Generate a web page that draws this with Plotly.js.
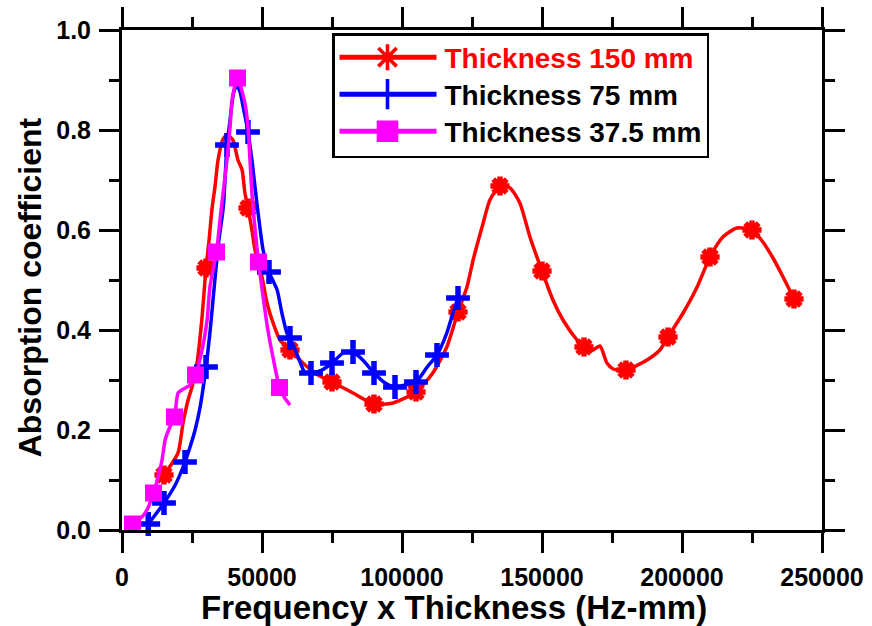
<!DOCTYPE html>
<html>
<head>
<meta charset="utf-8">
<script src="https://cdn.plot.ly/plotly-3.0.1.min.js"></script>
<style>html,body{margin:0;padding:0;background:#fff;}#chart{width:872px;height:626px;}</style>
</head>
<body>
<div id="chart"></div>
<script>
// ---- data (Frequency x Thickness in Hz-mm, absorption coefficient) ----
var seriesNames = ['Thickness 150 mm', 'Thickness 75 mm', 'Thickness 37.5 mm'];
var xTitle = 'Frequency x Thickness (Hz-mm)';
var yTitle = 'Absorption coefficient';

var red150X = [15000, 20000, 21800, 23600, 25000, 26800, 28600, 30000, 31000, 32100, 33200, 34300, 36100, 37500, 39600, 41400, 42900, 43900, 45000, 46400, 47500, 50000, 51800, 53600, 56400, 60000, 64600, 70000, 75000, 82500, 90000, 96800, 105000, 111000, 116000, 120000, 123200, 125400, 128600, 131400, 135000, 138600, 142100, 145700, 150000, 153900, 157500, 162500, 165000, 167500, 170700, 173200, 175400, 180000, 187500, 192100, 195000, 200400, 205400, 210000, 214600, 219600, 225000, 228900, 232500, 236100, 240000];
var red150Y = [0.11, 0.154, 0.214, 0.26, 0.286, 0.334, 0.426, 0.524, 0.574, 0.64, 0.686, 0.74, 0.782, 0.79, 0.78, 0.74, 0.72, 0.674, 0.644, 0.60, 0.56, 0.506, 0.454, 0.42, 0.38, 0.36, 0.334, 0.31, 0.296, 0.274, 0.252, 0.254, 0.276, 0.314, 0.366, 0.436, 0.486, 0.54, 0.606, 0.66, 0.688, 0.684, 0.654, 0.586, 0.518, 0.46, 0.42, 0.38, 0.366, 0.358, 0.368, 0.334, 0.322, 0.32, 0.34, 0.36, 0.386, 0.434, 0.486, 0.546, 0.586, 0.604, 0.60, 0.576, 0.544, 0.506, 0.462];
var red150Markers = [15000, 30000, 45000, 60000, 75000, 90000, 105000, 120000, 135000, 150000, 165000, 180000, 195000, 210000, 225000, 240000];

var blue75X = [9375, 12500, 15000, 19000, 22500, 24300, 26100, 27900, 30000, 31500, 33000, 34500, 36200, 37500, 38600, 39800, 41000, 42200, 43500, 45000, 46400, 47500, 48600, 50400, 52500, 55400, 57100, 58900, 60000, 62900, 65400, 67500, 71400, 75000, 79000, 82500, 86000, 90000, 94000, 97500, 101000, 105000, 109000, 112500, 116000, 118200, 120000];
var blue75Y = [0.012, 0.035, 0.054, 0.09, 0.136, 0.166, 0.2, 0.246, 0.326, 0.40, 0.49, 0.575, 0.647, 0.77, 0.82, 0.873, 0.89, 0.875, 0.84, 0.796, 0.74, 0.686, 0.634, 0.56, 0.516, 0.48, 0.434, 0.394, 0.384, 0.346, 0.314, 0.314, 0.32, 0.334, 0.354, 0.356, 0.34, 0.314, 0.294, 0.286, 0.29, 0.296, 0.326, 0.35, 0.394, 0.434, 0.464];
var blue75Markers = [9375, 15000, 22500, 30000, 37500, 45000, 52500, 60000, 67500, 75000, 82500, 90000, 97500, 105000, 112500, 120000];

var mag37X = [3750, 7100, 8900, 11250, 12900, 14300, 15400, 17100, 18750, 20000, 21400, 24300, 26250, 28600, 30400, 31400, 33750, 35000, 36100, 37500, 38600, 39300, 41250, 43900, 45000, 45700, 46400, 47200, 48750, 50400, 52100, 53900, 56250, 58000, 60000];
var mag37Y = [0.012, 0.026, 0.04, 0.074, 0.106, 0.14, 0.18, 0.206, 0.226, 0.274, 0.28, 0.29, 0.31, 0.36, 0.42, 0.486, 0.556, 0.62, 0.674, 0.74, 0.806, 0.86, 0.904, 0.854, 0.806, 0.74, 0.674, 0.62, 0.536, 0.466, 0.40, 0.346, 0.285, 0.265, 0.25];
var mag37Markers = [3750, 11250, 18750, 26250, 33750, 41250, 48750, 56250];

var xTickVals = [0, 50000, 100000, 150000, 200000, 250000];
var yTickVals = [0.0, 0.2, 0.4, 0.6, 0.8, 1.0];

// ---- build traces ----
function sizesFor(xs, marks, s) {
  return xs.map(function (v) { return marks.indexOf(v) >= 0 ? s : 0; });
}
var FONT = 'Liberation Sans, Arial, Helvetica, sans-serif';

var traces = [
  {
    x: red150X, y: red150Y, mode: 'lines+markers',
    name: '<span style="color:#ff0000">' + seriesNames[0] + '</span>',
    line: {color: '#ff0000', width: 3.5, shape: 'spline', smoothing: 0.6},
    marker: {symbol: 'asterisk', color: '#ff0000', opacity: 1, size: sizesFor(red150X, red150Markers, 16),
             line: {color: '#ff0000', width: 5.5}},
    cliponaxis: false
  },
  {
    x: blue75X, y: blue75Y, mode: 'lines+markers', name: seriesNames[1],
    line: {color: '#0000ff', width: 3.5, shape: 'spline', smoothing: 0.6},
    marker: {symbol: 'cross-thin', color: '#0000ff', opacity: 1, size: sizesFor(blue75X, blue75Markers, 17),
             line: {color: '#0000ff', width: 5.5}},
    cliponaxis: false
  },
  {
    x: mag37X, y: mag37Y, mode: 'lines+markers', name: seriesNames[2],
    line: {color: '#ff00ff', width: 3.5, shape: 'spline', smoothing: 0.6},
    marker: {symbol: 'square', color: '#ff00ff', opacity: 1, size: sizesFor(mag37X, mag37Markers, 17),
             line: {width: 0}},
    cliponaxis: false
  }
];

var axisCommon = {
  showline: true, linecolor: '#000', linewidth: 3, mirror: 'ticks',
  ticks: 'outside', ticklen: 20, tickwidth: 3, tickcolor: '#000',
  showgrid: false, zeroline: false, ticklabelstandoff: 3,
  tickfont: {family: FONT, size: 25, color: '#000', weight: 'bold'}
};

var layout = {
  width: 872, height: 626,
  margin: {l: 122, r: 50, t: 30, b: 96},
  paper_bgcolor: '#fff', plot_bgcolor: '#fff',
  showlegend: true,
  xaxis: Object.assign({}, axisCommon, {
    range: [0, 250000], tickmode: 'array', tickvals: xTickVals,
    ticktext: xTickVals.map(function (v) { return String(v); }),
    minor: {dtick: 25000, tick0: 0, ticks: 'outside', ticklen: 10, tickwidth: 3, tickcolor: '#000', showgrid: false}
  }),
  yaxis: Object.assign({}, axisCommon, {
    range: [0, 1], tickmode: 'array', tickvals: yTickVals,
    ticktext: yTickVals.map(function (v) { return v.toFixed(1); }),
    minor: {dtick: 0.1, tick0: 0, ticks: 'outside', ticklen: 10, tickwidth: 3, tickcolor: '#000', showgrid: false}
  }),
  annotations: [
    {text: xTitle, xref: 'paper', yref: 'paper', x: 0.474, y: -0.154, xanchor: 'center', yanchor: 'middle',
     showarrow: false, font: {family: FONT, size: 33, color: '#000', weight: 'bold'}},
    {text: yTitle, xref: 'paper', yref: 'paper', x: -0.131, y: 0.486, xanchor: 'center', yanchor: 'middle',
     textangle: -90, showarrow: false, font: {family: FONT, size: 32, color: '#000', weight: 'bold'}}
  ],
  legend: {
    x: 0.3, y: 0.994, xanchor: 'left', yanchor: 'top',
    bgcolor: '#fff', bordercolor: '#000', borderwidth: 2.5,
    font: {family: FONT, size: 28, color: '#000', weight: 'bold'},
    itemwidth: 100, itemsizing: 'constant', tracegroupgap: 0
  }
};

function parseT(s) {
  var m = /translate\(\s*([-\d.]+)[ ,]+([-\d.]+)\s*\)/.exec(s || '');
  return m ? [parseFloat(m[1]), parseFloat(m[2])] : [0, 0];
}

Plotly.newPlot('chart', traces, layout, {displayModeBar: false, staticPlot: true}).then(function (gd) {
  var items = Array.prototype.slice.call(gd.querySelectorAll('.legend .traces'));
  items.forEach(function (t) {
    t.querySelectorAll('.legendlines path').forEach(function (p) { p.setAttribute('d', 'M5,0h97'); });
    t.querySelectorAll('.legendpoints path').forEach(function (p) {
      p.setAttribute('transform', 'translate(53,0) scale(1.8)');
      p.style.opacity = 1;
    });
  });
  // tighten legend row spacing to match the reference box
  if (items.length === 3) {
    var p0 = parseT(items[0].getAttribute('transform'));
    var p1 = parseT(items[1].getAttribute('transform'));
    var oldS = p1[1] - p0[1];
    var newS = 37, shift0 = -3;
    items.forEach(function (t, i) {
      var p = parseT(t.getAttribute('transform'));
      t.setAttribute('transform', 'translate(' + p[0] + ',' + (p0[1] + shift0 + newS * i) + ')');
    });
    var bg = gd.querySelector('.legend rect.bg');
    if (bg) {
      var h = parseFloat(bg.getAttribute('height'));
      bg.setAttribute('height', h - (-shift0 + 2 * (oldS - newS)) - 1);
    }
  }
});
</script>
</body>
</html>
